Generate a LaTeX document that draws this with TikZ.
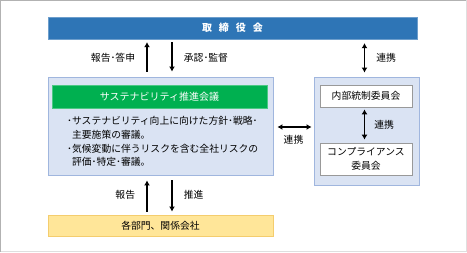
\documentclass[tikz,border=0pt]{standalone}
\usepackage{fontspec}
\setmainfont{Noto Sans CJK JP}
\usepackage{tikz}
\usetikzlibrary{arrows.meta,calc,positioning}
\definecolor{boardblue}{RGB}{46,117,182}
\definecolor{paleblue}{RGB}{218,227,243}
\definecolor{paleedge}{RGB}{160,182,222}
\definecolor{councilgreen}{RGB}{0,176,80}
\definecolor{paleyellow}{RGB}{255,230,153}
\definecolor{yellowedge}{RGB}{244,205,110}
\begin{document}
\begin{tikzpicture}[x=1pt,y=-1pt,>=Latex,font=\fontsize{9.8}{13.7}\selectfont,
 panel/.style={draw=paleedge,fill=paleblue,line width=0.9pt},
 whitebox/.style={draw=gray!80,fill=white,line width=0.8pt,align=center},
 arr/.style={->,line width=1.2pt,>={Latex[length=5pt,width=6pt]}},
 twoway/.style={<->,line width=1.2pt,>={Latex[length=5pt,width=6pt]}}]
 \useasboundingbox (0,0) rectangle (467,253);
 \draw[gray!25,line width=1pt] (466,0.5) -- (466,252) -- (0.5,252);
 \draw[gray!60,line width=1pt] (0.5,252) -- (0.5,0.5) -- (466,0.5);
 \node[fill=boardblue,draw=boardblue!70!white,minimum width=369pt,minimum height=22pt,text=white,font=\fontsize{10}{11}\selectfont\bfseries] (board) at (232.5,28) {取\hspace{0.7em}締\hspace{0.7em}役\hspace{0.7em}会};
 \node[panel,minimum width=225pt,minimum height=98pt] (council) at (160.5,126) {};
 \node[fill=councilgreen,draw=councilgreen!70!white,minimum width=215pt,minimum height=23pt,text=white,font=\fontsize{10}{11}\selectfont] (title) at (159.5,96.5) {サステナビリティ推進会議};
 \node[anchor=west,align=left,inner sep=0pt] (tasks) at (67,141.5) {･サステナビリティ向上に向けた方針･戦略･\\\hspace{0.5em}主要施策の審議。\\･気候変動に伴うリスクを含む全社リスクの\\\hspace{0.5em}評価･特定･審議。};
 \node[fill=paleyellow,draw=yellowedge,line width=0.9pt,minimum width=225pt,minimum height=21pt] (units) at (160.5,225.5) {各部門、関係会社};
 \node[panel,minimum width=105pt,minimum height=108pt] (group) at (366.5,131) {};
 \node[whitebox,minimum width=92pt,minimum height=22pt] (control) at (366,96) {内部統制委員会};
 \node[whitebox,minimum width=92pt,minimum height=32pt,inner sep=1pt] (compliance) at (366,159) {コンプライアンス\\委員会};
 % 上下の報告・指示
 \coordinate (upx) at (147,0);
 \coordinate (downx) at (172,0);
 \draw[arr,shorten <=5pt,shorten >=3pt] (council.north -| upx) -- (board.south -| upx) node[midway,left=8pt] {報告･答申};
 \draw[arr,shorten <=3pt,shorten >=5pt] (board.south -| downx) -- (council.north -| downx) node[midway,right=8pt] {承認･監督};
 \draw[arr,shorten <=3pt,shorten >=5pt] (units.north -| upx) -- (council.south -| upx) node[midway,left=8pt] {報告};
 \draw[arr,shorten <=5pt,shorten >=3pt] (council.south -| downx) -- (units.north -| downx) node[midway,right=8pt] {推進};
 % 連携
 \coordinate (linkx) at (364.5,0);
 \draw[twoway,shorten <=4pt,shorten >=4pt] (board.south -| linkx) -- (group.north -| linkx) node[midway,right=8pt] {連携};
 \draw[twoway,shorten <=2pt,shorten >=3pt] (control.south -| linkx) -- (compliance.north -| linkx) node[midway,right=6pt] {連携};
 \coordinate (linky) at (0,127);
 \draw[twoway,shorten <=4pt,shorten >=2pt] (council.east |- linky) -- (group.west |- linky) node[midway,below=4pt] {連携};
\end{tikzpicture}
\end{document}
